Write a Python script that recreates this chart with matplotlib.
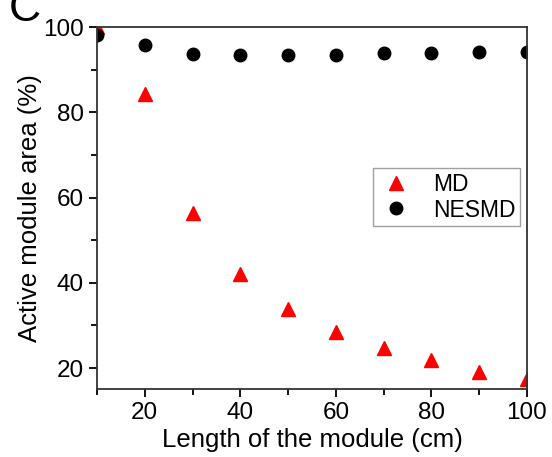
import matplotlib.pyplot as plt
from matplotlib.ticker import MultipleLocator

plt.rcParams['font.family'] = ['Liberation Sans', 'DejaVu Sans']

length = [10, 20, 30, 40, 50, 60, 70, 80, 90, 100]
md = [100.0, 84.2, 56.4, 42.1, 33.9, 28.5, 24.7, 21.9, 19.1, 17.4]
nesmd = [98.1, 95.8, 93.7, 93.4, 93.4, 93.4, 93.9, 93.9, 94.1, 94.1]

fig = plt.figure(figsize=(5.52, 4.57), dpi=100)
ax = fig.add_axes([97/552, 1-389/457, 430/552, 362/457])

ax.plot(length, md, '^', color='red', ms=10.5, mec='red', label='MD')
ax.plot(length, nesmd, 'o', color='black', ms=9, label='NESMD')

ax.set_xlim(10, 100)
ax.set_ylim(15.1, 100)
ax.xaxis.set_major_locator(MultipleLocator(20))
ax.xaxis.set_minor_locator(MultipleLocator(10))
ax.yaxis.set_major_locator(MultipleLocator(20))
ax.yaxis.set_minor_locator(MultipleLocator(10))
ax.tick_params(which='both', direction='out', top=False, right=False, labelsize=17.5, width=1.3)
ax.tick_params(which='major', length=6)
ax.tick_params(which='minor', length=4)
for s in ax.spines.values():
    s.set_linewidth(1.3)
    s.set_color('#333333')

ax.set_xlabel('Length of the module (cm)', fontsize=18.5, labelpad=3)
ax.set_ylabel('Active module area (%)', fontsize=18.5, labelpad=1)

leg = ax.legend(loc='center right', bbox_to_anchor=(1.01, 0.53), fontsize=16.5, frameon=True,
                fancybox=False, edgecolor='#888888', handletextpad=0.8, borderpad=0.2,
                labelspacing=0.12, handlelength=1.6)
leg.get_frame().set_linewidth(1.0)

fig.text(9/552, 1.025, 'C', fontsize=32, va='top', ha='left')

fig.savefig('out.png', dpi=100)
